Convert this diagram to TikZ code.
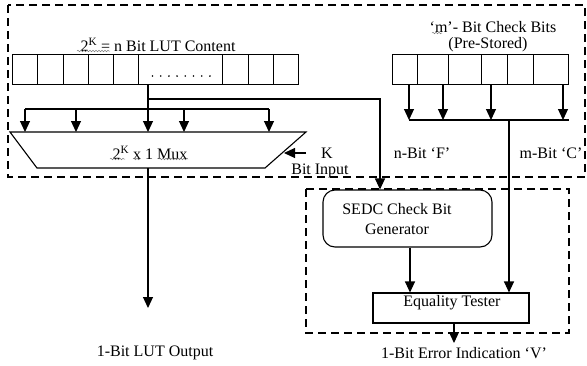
\documentclass[tikz,border=0pt]{standalone}
\usepackage{fontspec}
\setmainfont{Liberation Serif}
\usetikzlibrary{arrows.meta,decorations.pathmorphing}
\begin{document}
\begin{tikzpicture}[x=1pt,y=-1pt,
  font=\fontsize{16}{18}\selectfont,
  line width=1.1pt,
  arr/.style={-{Triangle[length=11pt,width=10pt]}},
  dbox/.style={draw, dash pattern=on 8pt off 5pt, line width=1.5pt},
  cellrow/.style={draw, line width=0.9pt, minimum height=30pt, inner sep=0pt, outer sep=0pt},
  lbl/.style={inner sep=0pt},
  squig/.style={draw, line width=0.5pt, gray, decorate, decoration={snake, amplitude=0.8pt, segment length=3pt}}]
\useasboundingbox (0,0) rectangle (587,365);

% dashed boxes
\draw[dbox] (8,5) rectangle (585,177);
\draw[dbox] (306,189) rectangle (569,333);

% LUT content row
\node[lbl] (luttitle) at (158,45) {2\textsuperscript{K} = n Bit LUT Content};
\node[cellrow, minimum width=286pt] (lut) at (155,69) {};
\foreach \x in {37,63,88,113,138,222,248,273} \draw[line width=0.9pt] (\x,54) -- (\x,84);
\foreach \i in {0,...,7} \fill (152.5+8.2*\i,76) circle (0.9pt);

% Mux
\draw (10,132) -- (306,132) -- (265,168) -- (37,168) -- cycle;
\node[lbl] (mux) at (150,153) {2\textsuperscript{K} x 1 Mux};
\coordinate (muxtop) at (148,132);
\coordinate (muxbot) at (148,168);
\coordinate (lutout) at (148,84);
\coordinate (dist) at (148,109);
\coordinate (tap) at (148,99);

\draw[arr] (lutout) -- (muxtop);
\draw (25,109) -- (269,109);
\foreach \x in {25,76,184,269} \draw[arr] (\x,109) -- (\x,132);

% K input
\coordinate (kin) at (306,153);
\coordinate (kend) at (284,153);
\draw[arr] (kin) -- (kend);
\node[lbl] (klbl) at (327,153) {K};
\node[lbl] (bitin) at (320,171) {Bit Input};

% output
\coordinate (lutend) at (148,308);
\draw[arr] (muxbot) -- (lutend);
\node[lbl] (lutoutlbl) at (155,353) {1-Bit LUT Output};

% check bits
\node[lbl] (cbtitle) at (493,27) {‘m’- Bit Check Bits};
\node[lbl] (cbtitle2) at (488,45) {(Pre-Stored)};
\node[cellrow, minimum width=176pt] (cb) at (480,69) {};
\foreach \x in {417,448,481,507,533} \draw[line width=0.9pt] (\x,54) -- (\x,84);
\foreach \x in {409,443,491,563} \draw[arr] (\x,84) -- (\x,120);
\draw (409,120) -- (569,120);
\coordinate (cjoin) at (509,120);

\node[lbl] (nf) at (422,153) {n-Bit ‘F’};
\node[lbl] (mc) at (551,153) {m-Bit ‘C’};

% SEDC
\node[draw, rounded corners=12pt, minimum width=169pt, minimum height=57pt, inner sep=0pt] (sedc) at (407.5,218.5) {};
\node[lbl, align=center] (sedctxt) at (397,219) {SEDC Check Bit\\[2pt]Generator};
\draw[arr] (tap) -- (380,99) -- (sedc.north -| 380,0);

% Equality tester
\node[draw, minimum width=156pt, minimum height=30pt, inner sep=0pt] (eq) at (451,308) {};
\node[lbl] (eqtxt) at (452,303) {Equality Tester};
\draw[arr] (sedc.south -| 410,0) -- (eq.north -| 410,0);
\draw[arr] (cjoin) -- (eq.north -| 509,0);
\coordinate (vend) at (454,343);
\draw[arr] (eq.south -| 454,0) -- (vend);
\node[lbl] (vlbl) at (464,353) {1-Bit Error Indication ‘V’};

% spell-check squiggles
\draw[squig] (77,51) -- (110,51);
\draw[squig] (110,159) -- (125,159);
\draw[squig] (133,159) -- (140,159);
\draw[squig] (159,159) -- (188,159);
\draw[squig] (432,33) -- (442,33);
\end{tikzpicture}
\end{document}
